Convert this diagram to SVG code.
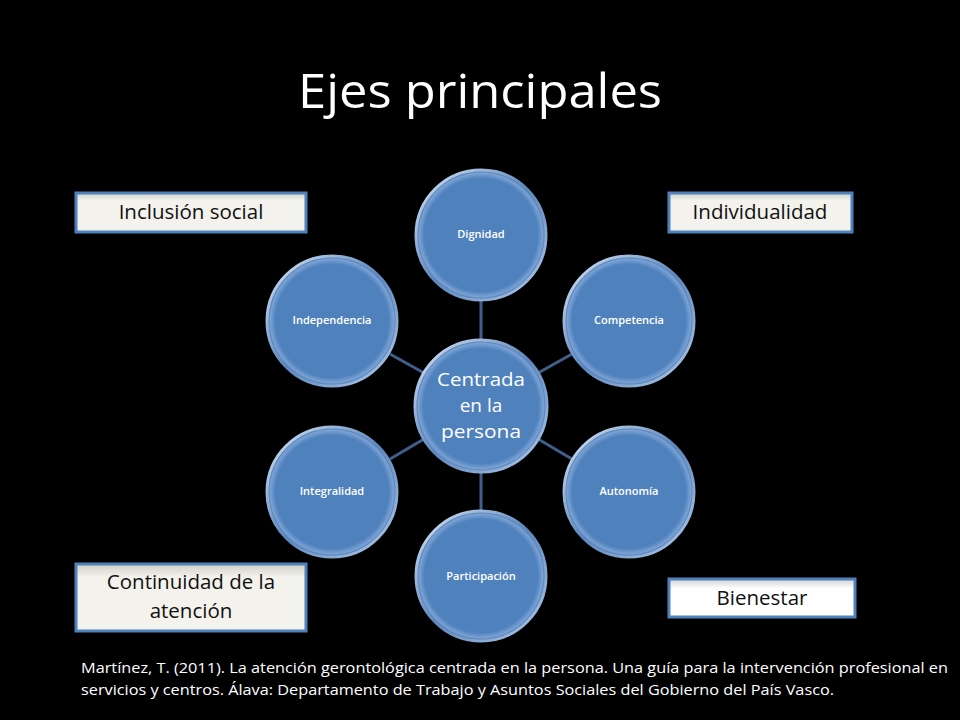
<svg xmlns="http://www.w3.org/2000/svg" width="960" height="720" viewBox="0 0 960 720">
<defs>
<radialGradient id="ball" cx="50%" cy="50%" r="50%">
<stop offset="0" stop-color="#4f81bd"/>
<stop offset="0.87" stop-color="#4f81bd"/>
<stop offset="0.95" stop-color="#7aa2d4"/>
<stop offset="1" stop-color="#3d6598"/>
</radialGradient>
<linearGradient id="rim" x1="0" y1="0" x2="1" y2="1">
<stop offset="0" stop-color="#dbe8f7"/>
<stop offset="0.5" stop-color="#5b86bd"/>
<stop offset="1" stop-color="#b4cdec"/>
</linearGradient>
<linearGradient id="boxfill" x1="0" y1="0" x2="0" y2="1">
<stop offset="0" stop-color="#d0cec6"/>
<stop offset="0.2" stop-color="#f3f2ec"/>
<stop offset="1" stop-color="#f3f2ec"/>
</linearGradient>
<linearGradient id="boxwhite" x1="0" y1="0" x2="0" y2="1">
<stop offset="0" stop-color="#d0d0d0"/>
<stop offset="0.25" stop-color="#ffffff"/>
<stop offset="1" stop-color="#ffffff"/>
</linearGradient>
</defs>
<style>
.circ{fill:url(#ball);stroke:url(#rim);stroke-width:3}
.lbl{font-family:"Open Sans","Noto Sans","Liberation Sans",sans-serif;font-size:11px;font-weight:600;fill:#ffffff;text-anchor:middle}
.ctr{font-family:"Open Sans","Noto Sans","Liberation Sans",sans-serif;font-size:19px;fill:#ffffff;text-anchor:middle}
.box{stroke:#4f81bd;stroke-width:3}
.btxt{font-family:"Open Sans","Noto Sans","Liberation Sans",sans-serif;font-size:20.5px;fill:#111111;text-anchor:middle}
.con{stroke:#3e5f8a;stroke-width:3}
.cite{font-family:"Open Sans","Noto Sans","Liberation Sans",sans-serif;font-size:15px;fill:#ffffff}
</style>
<rect width="960" height="720" fill="#000000"/>
<text x="480" y="108" font-family="'Open Sans','Noto Sans','Liberation Sans',sans-serif" font-size="48" fill="#ffffff" text-anchor="middle" textLength="364" lengthAdjust="spacingAndGlyphs">Ejes principales</text>
<g id="connectors">
<line class="con" x1="481" y1="300" x2="481" y2="340"/>
<line class="con" x1="481" y1="472" x2="481" y2="511"/>
<line class="con" x1="390" y1="354" x2="424" y2="373"/>
<line class="con" x1="572" y1="354" x2="538" y2="373"/>
<line class="con" x1="390" y1="459" x2="424" y2="439"/>
<line class="con" x1="572" y1="459" x2="538" y2="439"/>
</g>
<g id="center">
<circle class="circ" cx="481" cy="406" r="66"/>
<text class="ctr" x="481" y="386" textLength="88" lengthAdjust="spacingAndGlyphs">Centrada</text>
<text class="ctr" x="481" y="412">en la</text>
<text class="ctr" x="481" y="438" textLength="80" lengthAdjust="spacingAndGlyphs">persona</text>
</g>
<g id="dignidad">
<circle class="circ" cx="481" cy="235" r="65"/>
<text class="lbl" x="481" y="238">Dignidad</text>
</g>
<g id="competencia">
<circle class="circ" cx="629" cy="321" r="65"/>
<text class="lbl" x="629" y="324">Competencia</text>
</g>
<g id="autonomia">
<circle class="circ" cx="629" cy="492" r="65"/>
<text class="lbl" x="629" y="495">Autonomía</text>
</g>
<g id="participacion">
<circle class="circ" cx="481" cy="576" r="65"/>
<text class="lbl" x="481" y="580">Participación</text>
</g>
<g id="integralidad">
<circle class="circ" cx="332" cy="492" r="65"/>
<text class="lbl" x="332" y="495">Integralidad</text>
</g>
<g id="independencia">
<circle class="circ" cx="332" cy="321" r="65"/>
<text class="lbl" x="332" y="324">Independencia</text>
</g>
<g id="inclusion">
<rect class="box" x="76" y="193" width="230" height="39" fill="url(#boxfill)"/>
<text class="btxt" x="191" y="219">Inclusión social</text>
</g>
<g id="individualidad">
<rect class="box" x="669" y="193" width="183" height="39" fill="url(#boxfill)"/>
<text class="btxt" x="760" y="219">Individualidad</text>
</g>
<g id="continuidad">
<rect class="box" x="76" y="564" width="230" height="67" fill="url(#boxfill)"/>
<text class="btxt" x="191" y="589">Continuidad de la</text>
<text class="btxt" x="191" y="618">atención</text>
</g>
<g id="bienestar">
<rect class="box" x="669" y="579" width="186" height="38" fill="url(#boxwhite)"/>
<text class="btxt" x="762" y="605">Bienestar</text>
</g>
<text class="cite" x="81" y="673" textLength="867" lengthAdjust="spacingAndGlyphs">Martínez, T. (2011). La atención gerontológica centrada en la persona. Una guía para la intervención profesional en</text>
<text class="cite" x="81" y="695" textLength="753" lengthAdjust="spacingAndGlyphs">servicios y centros. Álava: Departamento de Trabajo y Asuntos Sociales del Gobierno del País Vasco.</text>
</svg>
